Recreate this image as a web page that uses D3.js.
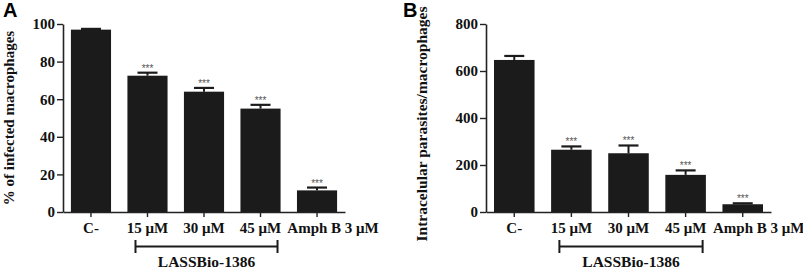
<!DOCTYPE html>
<html>
<head>
<meta charset="utf-8">
<script src="https://cdn.jsdelivr.net/npm/d3@7"></script>
<style>
  body { margin: 0; background: #fff; }
  svg text { font-family: "Liberation Serif", "Times New Roman", serif; font-weight: bold; }
</style>
</head>
<body>
<div id="chart"></div>
<script>
// groups (x axis)
const groups = ["C-", "15 μM", "30 μM", "45 μM", "Amph B 3 μM"];
const bracketLabel = "LASSBio-1386";

// panel A: % infected macrophages
const infectedMean = [97, 72.5, 64, 55, 11.5];
const infectedErr = [0.4, 1.6, 2, 2, 1.5];
const infectedTicks = [0, 20, 40, 60, 80, 100];

// panel B: intracellular parasites / macrophages
const parasitesMean = [647, 265, 250, 158, 33];
const parasitesErr = [17, 14, 33, 19, 4];
const parasitesTicks = [0, 200, 400, 600, 800];

const stars = ["", "***", "***", "***", "***"];

const svg = d3.select("#chart").append("svg")
    .attr("width", 803)
    .attr("height", 274);

function drawPanel(opt) {
    const g = svg.append("g");
    const x = d3.scaleBand()
        .domain(groups)
        .range([opt.left, opt.right])
        .paddingInner(0.29)
        .paddingOuter(0.14);
    const y = d3.scaleLinear()
        .domain([0, opt.max])
        .range([212, 24]);

    // panel letter
    g.append("text")
        .attr("x", opt.letterX)
        .attr("y", 17)
        .style("font-family", "'Liberation Sans', Arial, sans-serif")
        .style("font-size", "20px")
        .text(opt.letter);

    // bars
    g.selectAll("rect.bar")
        .data(opt.mean)
        .enter()
        .append("rect")
        .attr("class", "bar")
        .attr("x", (d, i) => x(groups[i]))
        .attr("width", x.bandwidth())
        .attr("y", d => y(d))
        .attr("height", d => y(0) - y(d))
        .style("fill", "#1b1b1b");

    // error bars (upper only)
    g.selectAll("line.err")
        .data(opt.mean)
        .enter()
        .append("line")
        .attr("x1", (d, i) => x(groups[i]) + x.bandwidth() / 2)
        .attr("x2", (d, i) => x(groups[i]) + x.bandwidth() / 2)
        .attr("y1", d => y(d))
        .attr("y2", (d, i) => y(d + opt.err[i]))
        .style("stroke", "#1b1b1b")
        .style("stroke-width", 2);
    g.selectAll("line.cap")
        .data(opt.mean)
        .enter()
        .append("line")
        .attr("x1", (d, i) => x(groups[i]) + x.bandwidth() / 2 - 10)
        .attr("x2", (d, i) => x(groups[i]) + x.bandwidth() / 2 + 10)
        .attr("y1", (d, i) => y(d + opt.err[i]))
        .attr("y2", (d, i) => y(d + opt.err[i]))
        .style("stroke", "#1b1b1b")
        .style("stroke-width", 2.2);

    // significance stars
    g.selectAll("text.star")
        .data(opt.mean)
        .enter()
        .append("text")
        .attr("x", (d, i) => x(groups[i]) + x.bandwidth() / 2)
        .attr("y", (d, i) => y(d + opt.err[i]) - 1)
        .attr("text-anchor", "middle")
        .style("font-family", "'Liberation Sans', Arial, sans-serif")
        .style("font-size", "10px")
        .style("font-weight", "normal")
        .style("fill", "#555")
        .text((d, i) => stars[i]);

    // axes
    const yAxis = g.append("g")
        .attr("transform", "translate(" + opt.left + ",0)")
        .call(d3.axisLeft(y).tickValues(opt.ticks).tickSize(6).tickSizeOuter(0).tickPadding(2));
    const xAxis = g.append("g")
        .attr("transform", "translate(0,212)")
        .call(d3.axisBottom(x).tickSize(5).tickSizeOuter(0).tickPadding(4));
    [yAxis, xAxis].forEach(a => {
        a.select(".domain").style("stroke", "#222").style("stroke-width", 1.6);
        a.selectAll(".tick line").style("stroke", "#222").style("stroke-width", 1.4);
        a.selectAll("text").style("font-family", "'Liberation Serif', 'Times New Roman', serif")
            .style("font-weight", "bold").style("font-size", "15px").style("fill", "#111");
    });
    xAxis.selectAll("text").attr("dy", "0.78em");
    // the last label sits to the right of its tick in the original
    xAxis.selectAll(".tick text").filter(d => d === groups[4]).attr("dx", 16);

    // y axis title
    g.append("text")
        .attr("transform", "translate(" + opt.titleX + "," + opt.titleY + ") rotate(-90)")
        .attr("text-anchor", "middle")
        .style("font-size", opt.titleSize)
        .style("fill", "#111")
        .text(opt.title);

    // bracket under LASSBio groups
    const bx1 = x(groups[1]) + x.bandwidth() / 2 - 12;
    const bx2 = x(groups[3]) + x.bandwidth() / 2 + 17;
    const br = g.append("g").style("stroke", "#1b1b1b").style("stroke-width", 2);
    br.append("line").attr("x1", bx1).attr("x2", bx2).attr("y1", 246.5).attr("y2", 246.5);
    br.append("line").attr("x1", bx1).attr("x2", bx1).attr("y1", 240).attr("y2", 253);
    br.append("line").attr("x1", bx2).attr("x2", bx2).attr("y1", 240).attr("y2", 253);
    g.append("text")
        .attr("x", (bx1 + bx2) / 2)
        .attr("y", 267)
        .attr("text-anchor", "middle")
        .style("font-size", "15.5px")
        .style("fill", "#111")
        .text(bracketLabel);
}

drawPanel({
    letter: "A", letterX: 3,
    left: 63, right: 345,
    max: 100, ticks: infectedTicks,
    mean: infectedMean, err: infectedErr,
    title: "% of infected macrophages", titleX: 14, titleY: 118, titleSize: "15px"
});

drawPanel({
    letter: "B", letterX: 403,
    left: 486, right: 771,
    max: 800, ticks: parasitesTicks,
    mean: parasitesMean, err: parasitesErr,
    title: "Intracelular parasites/macrophages", titleX: 427, titleY: 124, titleSize: "15.5px"
});
</script>
</body>
</html>
